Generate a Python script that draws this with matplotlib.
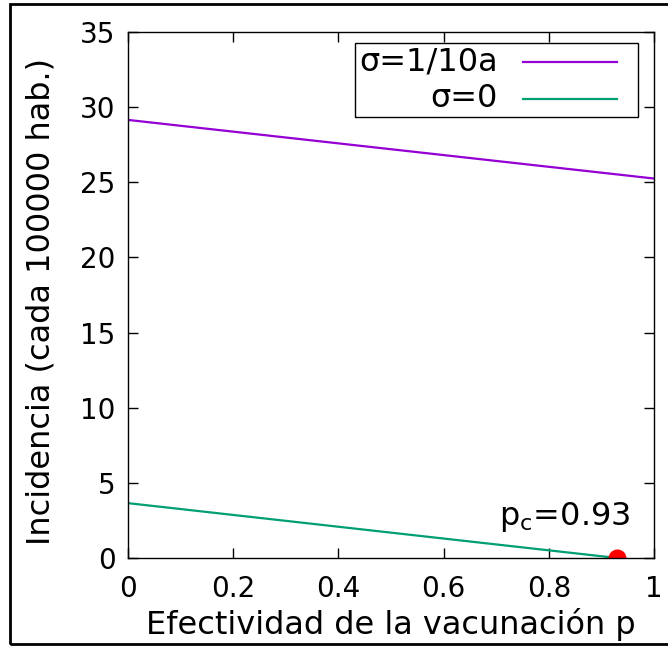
import numpy as np
import matplotlib.pyplot as plt
from matplotlib.patches import Rectangle

## Data
p = [0.0, 1.0]
inc_sigma10 = [29.15, 25.25]      # sigma = 1/10a
p_zero = [0.0, 0.93]
inc_sigma0 = [3.65, 0.0]          # sigma = 0
pc = 0.93
xticks = [0, 0.2, 0.4, 0.6, 0.8, 1]
xticklabels = ['0', '0.2', '0.4', '0.6', '0.8', '1']
yticks = [0, 5, 10, 15, 20, 25, 30, 35]

purple = '#9400d3'
green = '#009e73'
big = 23

plt.rcParams['font.family'] = 'DejaVu Sans'
plt.rcParams['font.size'] = 20

fig = plt.figure(figsize=(6.68, 6.46), dpi=100)
ax = fig.add_axes([128/668, 88/646, 526/668, 526/646])

ax.plot(p, inc_sigma10, color=purple, lw=1.6)
ax.plot(p_zero, inc_sigma0, color=green, lw=1.6)
# the point sits on the axis, gnuplot clips its lower half
ax.plot([pc], [0], 'o', color='red', ms=12, zorder=2.2)
ax.text(0.954, 2.2, r'$\mathregular{p_c}$=0.93', ha='right', va='baseline', fontsize=big)

ax.set_xlim(0, 1)
ax.set_ylim(0, 35)
ax.set_xticks(xticks)
ax.set_xticklabels(xticklabels)
ax.set_yticks(yticks)
ax.tick_params(direction='in', length=7, width=1, top=True, right=True, pad=9)
ax.tick_params(axis='x', pad=12)
for s in ax.spines.values():
    s.set_linewidth(1)
ax.set_xlabel('Efectividad de la vacunación p', fontsize=big, labelpad=4)
ax.set_ylabel('Incidencia (cada 100000 hab.)', fontsize=big, labelpad=17)
ax.yaxis.label.set_y(0.487)

## Legend drawn by hand (gnuplot style: text right-aligned, sample on the right)
ax.add_patch(Rectangle((0.4316, 0.838), 0.538, 0.141, transform=ax.transAxes,
                       fill=False, lw=1, ec='black', zorder=6))
ax.text(0.703, 0.943, 'σ=1/10a', transform=ax.transAxes, ha='right', va='center', fontsize=big)
ax.plot([0.751, 0.930], [0.943, 0.943], transform=ax.transAxes, color=purple, lw=1.6)
ax.text(0.703, 0.873, 'σ=0', transform=ax.transAxes, ha='right', va='center', fontsize=big)
ax.plot([0.751, 0.930], [0.873, 0.873], transform=ax.transAxes, color=green, lw=1.6)

## Outer frame around the whole figure
fig.patches.append(Rectangle((10/668, 2/646), 1.0, 640/646, transform=fig.transFigure,
                             fill=False, lw=2, ec='black'))

fig.savefig('out.png', dpi=100)
